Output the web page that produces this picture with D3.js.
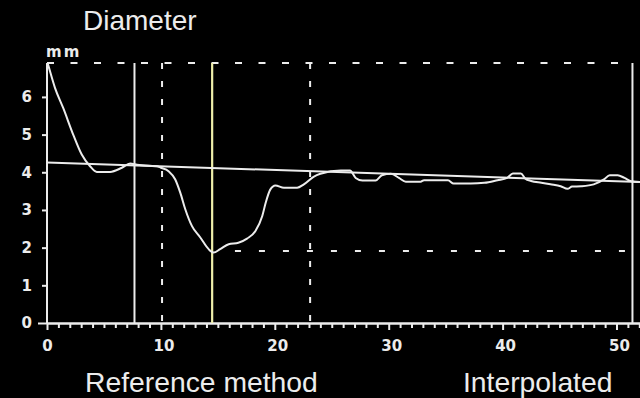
<!DOCTYPE html>
<html>
<head>
<meta charset="utf-8">
<script src="https://cdn.jsdelivr.net/npm/d3@7"></script>
<style>
  html, body { margin: 0; padding: 0; background: #000; }
  svg { display: block; }
</style>
</head>
<body>
<svg id="chart" width="640" height="398"></svg>
<script>
// Measured vessel diameter (mm) along the segment
const positions = [0.05, 0.1, 0.7, 1.43, 2.3, 3.05, 3.78, 4.37, 5.54, 6.57, 7.3, 7.9, 9.0, 9.65, 10.0,
  10.67, 11.26, 11.7, 12.14, 12.73, 13.46, 14.19, 14.63, 15.2, 15.95, 16.8, 17.56, 18.3, 18.9, 19.2,
  19.6, 20.05, 20.8, 21.96, 22.55, 23.4, 24.0, 25.8, 26.6, 27.1, 27.7, 28.85, 29.4, 30.2, 30.9, 31.5,
  32.8, 33.1, 35.2, 35.7, 37.2, 38.4, 39.55, 40.4, 40.9, 41.6, 42.0, 42.5, 43.4, 44.2, 45.1, 45.7,
  46.1, 46.9, 48.0, 48.9, 49.4, 50.1, 50.7, 51.3, 52.1];
const diameters = [6.9, 6.85, 6.24, 5.7, 5.0, 4.47, 4.16, 4.01, 4.01, 4.12, 4.23, 4.2, 4.17, 4.16, 4.12,
  4.03, 3.81, 3.46, 3.02, 2.57, 2.27, 1.96, 1.87, 1.96, 2.09, 2.13, 2.24, 2.44, 2.84, 3.19,
  3.54, 3.65, 3.59, 3.59, 3.68, 3.88, 3.96, 4.05, 4.05, 3.85, 3.78, 3.78, 3.92, 3.96, 3.85, 3.75,
  3.75, 3.79, 3.79, 3.70, 3.70, 3.72, 3.79, 3.85, 3.97, 3.97, 3.83, 3.77, 3.72, 3.68, 3.63, 3.56,
  3.62, 3.63, 3.68, 3.81, 3.92, 3.92, 3.85, 3.76, 3.74];

// Interpolated reference diameter (straight line)
const refPositions = [0, 52.1];
const refDiameters = [4.26, 3.74];

// Marker positions
const solidMarkers = [7.68, 51.4];
const dashedMarkers = [10.1, 23.1];
const minimumMarker = 14.5;
const minimumDiameter = 1.91;
const minimumLineStart = 16.5;
const topLevel = 6.9;

const xTicks = [0, 10, 20, 30, 40, 50];
const yTicks = [0, 1, 2, 3, 4, 5, 6];

const svg = d3.select("#chart");
const fg = "#ececec";

const x = d3.scaleLinear().domain([0, 52.15]).range([47, 641]);
const y = d3.scaleLinear().domain([0, 6.9]).range([323, 63]);

// Title and unit
svg.append("text").attr("x", 83).attr("y", 30)
  .attr("font-family", "Liberation Sans, Arial, sans-serif").attr("font-size", 28)
  .attr("fill", fg).text("Diameter");
svg.append("text").attr("x", 46).attr("y", 57)
  .attr("font-family", "DejaVu Sans, sans-serif").attr("font-weight", "bold").attr("font-size", 15)
  .attr("letter-spacing", 2)
  .attr("fill", fg).text("mm");

// Bottom axis: minor ticks every unit, labelled ticks every 10
const minorTicks = d3.range(0, 53, 1).filter(v => v % 10 !== 0);
const xMinor = svg.append("g").attr("transform", `translate(0,${y(0)})`)
  .call(d3.axisBottom(x).tickValues(minorTicks).tickSize(5).tickFormat(""));
const xMajor = svg.append("g").attr("transform", `translate(0,${y(0)})`)
  .call(d3.axisBottom(x).tickValues(xTicks).tickSize(7).tickPadding(10).tickFormat(d3.format("d")));
[xMinor, xMajor].forEach(g => {
  g.select(".domain").attr("stroke", fg).attr("stroke-width", 2).attr("d", `M${x(0)},0.5H640`);
  g.selectAll(".tick line").attr("stroke", fg).attr("stroke-width", 2);
});
xMajor.selectAll(".tick text")
  .attr("fill", fg).attr("font-family", "DejaVu Sans, sans-serif").attr("font-weight", "bold")
  .attr("font-size", 15).attr("dx", d => d === 0 ? 0 : 2.5);

// Left axis
const yAxis = svg.append("g").attr("transform", `translate(${x(0)},0)`)
  .call(d3.axisLeft(y).tickValues(yTicks).tickSize(5).tickPadding(10).tickFormat(d3.format("d")));
yAxis.select(".domain").attr("stroke", fg).attr("stroke-width", 2)
  .attr("d", `M0,${y(0)}V${y(topLevel)}`);
yAxis.selectAll(".tick line").attr("stroke", fg).attr("stroke-width", 2)
  .attr("x2", d => d === 0 ? -9 : -5);
yAxis.selectAll(".tick text")
  .attr("fill", fg).attr("font-family", "DejaVu Sans, sans-serif").attr("font-weight", "bold")
  .attr("font-size", 15);

// Top dashed boundary
svg.append("line")
  .attr("x1", x(0)).attr("x2", x(solidMarkers[1]))
  .attr("y1", y(topLevel)).attr("y2", y(topLevel))
  .attr("stroke", fg).attr("stroke-width", 2).attr("stroke-dasharray", "7,16.5");

// Minimum diameter dashed line
svg.append("line")
  .attr("x1", x(minimumLineStart)).attr("x2", x(solidMarkers[1]))
  .attr("y1", y(minimumDiameter)).attr("y2", y(minimumDiameter))
  .attr("stroke", fg).attr("stroke-width", 2).attr("stroke-dasharray", "6,18");

// Vertical markers
svg.selectAll("line.solid").data(solidMarkers).join("line").attr("class", "solid")
  .attr("x1", d => x(d)).attr("x2", d => x(d))
  .attr("y1", y(topLevel)).attr("y2", y(0))
  .attr("stroke", fg).attr("stroke-width", 2);
svg.selectAll("line.dashed").data(dashedMarkers).join("line").attr("class", "dashed")
  .attr("x1", d => x(d)).attr("x2", d => x(d))
  .attr("y1", y(topLevel)).attr("y2", y(0))
  .attr("stroke", fg).attr("stroke-width", 2).attr("stroke-dasharray", "6,12");
svg.append("line")
  .attr("x1", x(minimumMarker)).attr("x2", x(minimumMarker))
  .attr("y1", y(topLevel)).attr("y2", y(0))
  .attr("stroke", "#eeeeaa").attr("stroke-width", 2.2);

// Reference line
const refData = refPositions.map((p, i) => [p, refDiameters[i]]);
svg.append("path").datum(refData)
  .attr("d", d3.line().x(d => x(d[0])).y(d => y(d[1])))
  .attr("fill", "none").attr("stroke", fg).attr("stroke-width", 2);

// Diameter curve
const curveData = positions.map((p, i) => [p, diameters[i]]);
svg.append("path").datum(curveData)
  .attr("d", d3.line().x(d => x(d[0])).y(d => y(d[1])).curve(d3.curveMonotoneX))
  .attr("fill", "none").attr("stroke", fg).attr("stroke-width", 2);

// Footer labels
svg.append("text").attr("x", 85).attr("y", 392)
  .attr("font-family", "Liberation Sans, Arial, sans-serif").attr("font-size", 28.3)
  .attr("fill", fg).text("Reference method");
svg.append("text").attr("x", 463).attr("y", 392)
  .attr("font-family", "Liberation Sans, Arial, sans-serif").attr("font-size", 28.3)
  .attr("fill", fg).text("Interpolated");
</script>
</body>
</html>
